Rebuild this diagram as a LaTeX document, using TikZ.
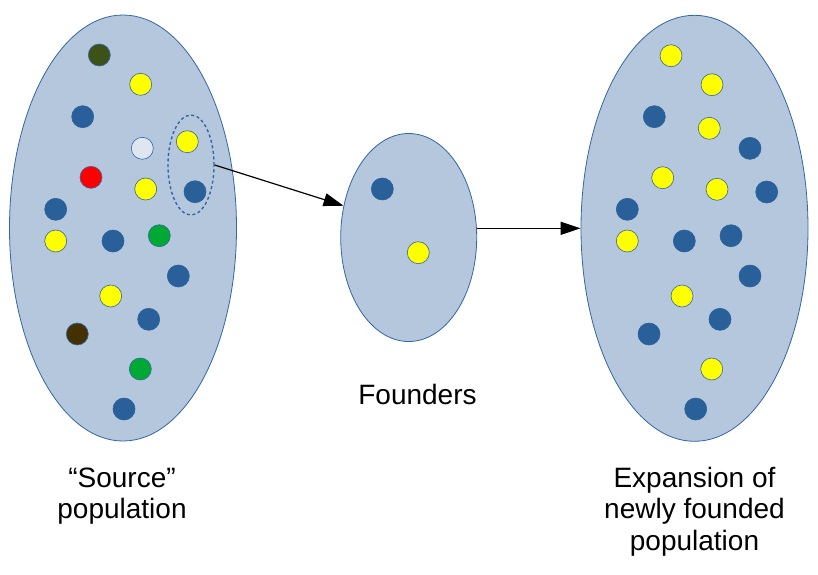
\documentclass[tikz,border=0pt]{standalone}
\usepackage{fontspec}
\setmainfont{Liberation Sans}
\usepackage{tikz}
\usetikzlibrary{arrows.meta,shapes.geometric,positioning}
\definecolor{popfill}{HTML}{B4C7DC}
\definecolor{popline}{HTML}{3465A4}
\definecolor{dotblue}{HTML}{2A6099}
\definecolor{dotyellow}{HTML}{FFFF00}
\definecolor{dotred}{HTML}{FF0000}
\definecolor{dotgreen}{HTML}{00A933}
\definecolor{dotgray}{HTML}{DEE6EF}
\definecolor{dotolive}{HTML}{3D5216}
\definecolor{dotbrown}{HTML}{443000}
\tikzset{
    pop/.style={ellipse, draw=popline, fill=popfill, line width=0.8pt, inner sep=0pt},
    dot/.style={circle, draw=popline, line width=0.6pt, minimum size=22pt, inner sep=0pt},
    blue/.style={dot, fill=dotblue, draw=dotblue},
    yel/.style={dot, fill=dotyellow},
    sample/.style={ellipse, draw=popline, dashed, dash pattern=on 3pt off 2.6pt, line width=1.4pt, minimum width=46pt, minimum height=100pt, inner sep=0pt},
    move/.style={-{Triangle[length=20pt, width=13pt]}, line width=1.2pt, black},
    label/.style={font=\fontsize{28}{31.5}\selectfont, align=center}
}

\begin{document}
\begin{tikzpicture}[x=1pt, y=-1pt]
                    \useasboundingbox (0,0) rectangle (818,574);

                    \node[pop, minimum width=227pt, minimum height=426pt] (source) at (123,228) {};
                    \node[pop, minimum width=136pt, minimum height=208pt] (founders) at (408.7,237.5) {};
                    \node[pop, minimum width=227pt, minimum height=426pt] (expansion) at (694.5,228.3) {};

                    \node[dot, fill=dotolive] (s1) at (99.3,55) {};
                    \node[yel] (s2) at (140.7,84.3) {};
                    \node[blue] (s3) at (82.7,116.7) {};
                    \node[dot, fill=dotgray] (s4) at (142.3,148.3) {};
                    \node[yel] (s5) at (187.3,141.7) {};
                    \node[dot, fill=dotred] (s6) at (91,177.3) {};
                    \node[yel] (s7) at (145.7,189) {};
                    \node[blue] (s8) at (195,191.7) {};
                    \node[blue] (s9) at (55.7,209.3) {};
                    \node[yel] (s10) at (55.7,241) {};
                    \node[blue] (s11) at (113,241) {};
                    \node[dot, fill=dotgreen] (s12) at (159.3,235.7) {};
                    \node[blue] (s13) at (178.3,276) {};
                    \node[yel] (s14) at (110.7,296) {};
                    \node[blue] (s15) at (148.7,319.3) {};
                    \node[dot, fill=dotbrown] (s16) at (77.3,334) {};
                    \node[dot, fill=dotgreen] (s17) at (140.3,369) {};
                    \node[blue] (s18) at (124,409) {};

                    \node[sample] (pick) at (191,165) {};

                    \node[blue] (f1) at (382.3,189) {};
                    \node[yel] (f2) at (418.3,252.7) {};

                    \node[yel] (e1) at (671,55.7) {};
                    \node[yel] (e2) at (712,84.7) {};
                    \node[blue] (e3) at (654.3,116.7) {};
                    \node[yel] (e4) at (709.3,128.3) {};
                    \node[blue] (e5) at (750,148.3) {};
                    \node[yel] (e6) at (662.7,177.7) {};
                    \node[yel] (e7) at (717,189.3) {};
                    \node[blue] (e8) at (766.7,192) {};
                    \node[blue] (e9) at (627.3,209.3) {};
                    \node[yel] (e10) at (627.3,241) {};
                    \node[blue] (e11) at (684.3,241) {};
                    \node[blue] (e12) at (731,235.7) {};
                    \node[blue] (e13) at (750,276) {};
                    \node[yel] (e14) at (682,296) {};
                    \node[blue] (e15) at (720,319.3) {};
                    \node[blue] (e16) at (649,334) {};
                    \node[yel] (e17) at (711.7,369) {};
                    \node[blue] (e18) at (695.7,409) {};

                    \node[label] (srclabel) at (122,496) {“Source”\\population};
                    \node[label] (foundlabel) at (417.5,394.5) {Founders};
                    \node[label] (explabel) at (694.5,511.5) {Expansion of\\newly founded\\population};

                    \draw[move] (pick.east) -- (founders.154);
                    \draw[move] (founders.east |- expansion.west) -- (expansion.west);
                \end{tikzpicture}
\end{document}
